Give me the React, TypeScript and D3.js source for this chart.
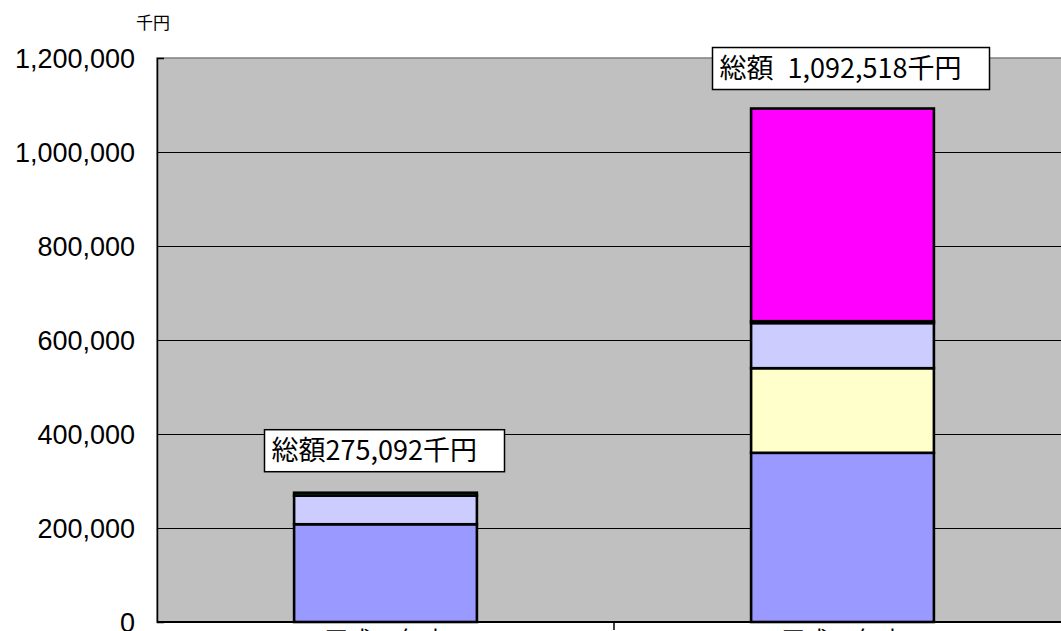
import { useEffect, useRef } from 'react';
import * as d3 from 'd3';

// categories (bottom labels are cut off in the original)
const categories = ['平成18年度', '平成19年度'];

// stacked series, bottom to top
const seriesNames = ['区分A', '区分B', '区分C', '区分D', '区分E'];
const seriesColors = ['#9999FF', '#FFFFCC', '#CCCCFF', '#008000', '#FF00FF'];
const seriesA = [208000, 360000];
const seriesB = [0, 180000];
const seriesC = [61000, 96000];
const seriesD = [6092, 4000];
const seriesE = [0, 452518];

const totalLabels = ['総額275,092千円', '総額 1,092,518千円'];
const yTicks = [0, 200000, 400000, 600000, 800000, 1000000, 1200000];

const App = () => {
  const svgRef = useRef<SVGSVGElement>(null);

  useEffect(() => {
    const width = 1061;
    const height = 631;
    const margin = { top: 58, right: -10, bottom: 9, left: 157 };

    const svg = d3.select(svgRef.current)
      .attr('width', width)
      .attr('height', height);
    svg.selectAll('*').remove();

    const values = [seriesA, seriesB, seriesC, seriesD, seriesE];
    const rows = categories.map((c, i) => {
      const r: any = { cat: c };
      seriesNames.forEach((s, k) => { r[s] = values[k][i]; });
      return r;
    });
    const stacked = d3.stack().keys(seriesNames)(rows);

    const x = d3.scaleBand()
      .domain(categories)
      .range([margin.left, width - margin.right])
      .paddingInner(0.6)
      .paddingOuter(0.3);

    const y = d3.scaleLinear()
      .domain([0, 1200000])
      .range([height - margin.bottom, margin.top]);

    const plotRight = width - margin.right;

    // plot background
    svg.append('rect')
      .attr('x', margin.left)
      .attr('y', y(1200000))
      .attr('width', plotRight - margin.left)
      .attr('height', y(0) - y(1200000))
      .attr('fill', '#C0C0C0')
      .attr('stroke', '#808080')
      .attr('stroke-width', 1.5);

    // gridlines
    svg.append('g')
      .selectAll('line')
      .data(yTicks.filter(t => t > 0 && t < 1200000))
      .enter()
      .append('line')
      .attr('x1', margin.left)
      .attr('x2', plotRight)
      .attr('y1', d => y(d) + 0.5)
      .attr('y2', d => y(d) + 0.5)
      .attr('stroke', '#000')
      .attr('stroke-width', 1);

    // bars
    svg.append('g')
      .selectAll('g')
      .data(stacked)
      .enter()
      .append('g')
      .attr('fill', (_d, i) => seriesColors[i])
      .selectAll('rect')
      .data(d => d.filter(p => p[1] - p[0] > 0))
      .enter()
      .append('rect')
      .attr('x', d => x(d.data.cat as string)!)
      .attr('y', d => y(d[1]))
      .attr('width', x.bandwidth())
      .attr('height', d => y(d[0]) - y(d[1]))
      .attr('stroke', '#000')
      .attr('stroke-width', 2.6);

    // y axis
    const yAxis = d3.axisLeft(y)
      .tickValues(yTicks)
      .tickSize(-7)
      .tickPadding(22)
      .tickFormat(d3.format(','));
    const yg = svg.append('g')
      .attr('transform', `translate(${margin.left},0)`)
      .call(yAxis);
    yg.select('.domain').attr('stroke', '#000').attr('stroke-width', 1.5);
    yg.selectAll('.tick line').attr('stroke', '#000');
    yg.selectAll('text')
      .attr('font-family', 'Liberation Sans, Arial, sans-serif')
      .attr('font-size', 27)
      .attr('fill', '#000')
      .attr('dy', '0.36em');

    // x axis
    const xg = svg.append('g')
      .attr('transform', `translate(0,${y(0)})`);
    xg.append('line')
      .attr('x1', margin.left)
      .attr('x2', plotRight)
      .attr('stroke', '#000')
      .attr('stroke-width', 2);
    xg.selectAll('line.sep')
      .data(categories.slice(1))
      .enter()
      .append('line')
      .attr('class', 'sep')
      .attr('x1', d => x(d)! - x.step() * x.paddingInner() / 2)
      .attr('x2', d => x(d)! - x.step() * x.paddingInner() / 2)
      .attr('y1', 0)
      .attr('y2', 8)
      .attr('stroke', '#000')
      .attr('stroke-width', 1.5);
    xg.selectAll('text')
      .data(categories)
      .enter()
      .append('text')
      .attr('x', d => x(d)! + x.bandwidth() / 2)
      .attr('y', 27)
      .attr('text-anchor', 'middle')
      .attr('font-family', 'Noto Sans CJK JP, sans-serif')
      .attr('font-size', 24)
      .text(d => d);

    // unit label
    svg.append('text')
      .attr('x', 153)
      .attr('y', 29)
      .attr('text-anchor', 'middle')
      .attr('font-family', 'Noto Sans CJK JP, sans-serif')
      .attr('font-size', 17)
      .text('千円');

    // total labels
    const totals = categories.map((_c, i) => d3.sum(values, v => v[i]));
    const boxes = [
      { dx: -121, dy: -63, w: 240, h: 42 },
      { dx: -130, dy: -61, w: 277, h: 42 },
    ];
    categories.forEach((c, i) => {
      const cx = x(c)! + x.bandwidth() / 2;
      const top = y(totals[i]);
      const b = boxes[i];
      const g = svg.append('g');
      g.append('rect')
        .attr('x', cx + b.dx)
        .attr('y', top + b.dy)
        .attr('width', b.w)
        .attr('height', b.h)
        .attr('fill', '#fff')
        .attr('stroke', '#000')
        .attr('stroke-width', 1.5);
      g.append('text')
        .attr('x', cx + b.dx + 7)
        .attr('y', top + b.dy + b.h / 2)
        .attr('dy', '0.36em')
        .attr('font-family', 'Noto Sans CJK JP, sans-serif')
        .attr('font-size', 27)
        .attr('word-spacing', 8)
        .text(totalLabels[i]);
    });
  }, []);

  return <svg ref={svgRef} style={{ position: 'absolute', left: 0, top: 0 }}></svg>;
};

export default App;
